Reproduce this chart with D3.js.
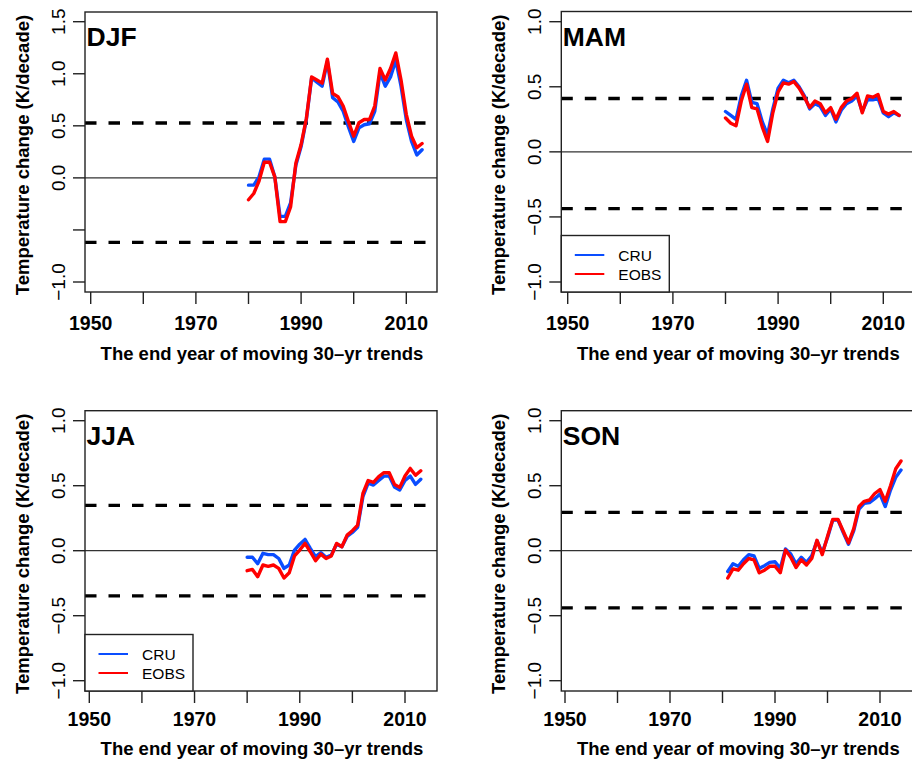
<!DOCTYPE html>
<html>
<head>
<meta charset="utf-8">
<script src="https://cdn.jsdelivr.net/npm/d3@7"></script>
<style>
  html, body { margin: 0; padding: 0; background: #fff; }
  svg { display: block; font-family: "Liberation Sans", Arial, Helvetica, sans-serif; }
</style>
</head>
<body>
<svg id="chart" width="912" height="761"></svg>
<script>
// End years of the moving 30-yr trend windows
const yearsDJF = [1980,1981,1982,1983,1984,1985,1986,1987,1988,1989,1990,1991,1992,1993,1994,1995,1996,1997,1998,1999,2000,2001,2002,2003,2004,2005,2006,2007,2008,2009,2010,2011,2012,2013];
const yearsMAM = yearsDJF;
const yearsJJA = yearsDJF;
const yearsSON = [1981,1982,1983,1984,1985,1986,1987,1988,1989,1990,1991,1992,1993,1994,1995,1996,1997,1998,1999,2000,2001,2002,2003,2004,2005,2006,2007,2008,2009,2010,2011,2012,2013,2014];

// Trend values (K/decade)
const djfCRU  = [-0.07,-0.07,0.01,0.18,0.18,0.01,-0.37,-0.37,-0.24,0.12,0.30,0.56,0.96,0.92,0.88,1.12,0.77,0.73,0.64,0.49,0.35,0.48,0.51,0.52,0.64,1.01,0.88,0.97,1.13,0.88,0.56,0.35,0.22,0.27];
const djfEOBS = [-0.21,-0.15,-0.03,0.15,0.15,0.01,-0.42,-0.42,-0.28,0.14,0.32,0.57,0.97,0.94,0.91,1.14,0.81,0.78,0.69,0.54,0.40,0.53,0.56,0.56,0.69,1.05,0.94,1.05,1.20,0.94,0.61,0.40,0.29,0.33];
const mamCRU  = [0.31,0.28,0.25,0.43,0.55,0.38,0.37,0.23,0.13,0.33,0.49,0.55,0.53,0.55,0.50,0.43,0.33,0.37,0.35,0.28,0.33,0.23,0.32,0.37,0.39,0.43,0.31,0.40,0.40,0.41,0.30,0.27,0.30,0.28];
const mamEOBS = [0.26,0.22,0.20,0.39,0.52,0.34,0.33,0.19,0.08,0.30,0.46,0.53,0.52,0.54,0.49,0.42,0.34,0.39,0.37,0.30,0.34,0.25,0.34,0.39,0.41,0.45,0.30,0.43,0.42,0.44,0.31,0.29,0.31,0.28];
const jjaCRU  = [-0.05,-0.05,-0.10,-0.02,-0.03,-0.03,-0.06,-0.136,-0.11,0.005,0.05,0.087,0.018,-0.046,-0.015,-0.05,-0.033,0.05,0.03,0.11,0.14,0.18,0.415,0.52,0.505,0.54,0.574,0.574,0.49,0.467,0.54,0.574,0.51,0.55];
const jjaEOBS = [-0.154,-0.144,-0.20,-0.11,-0.12,-0.11,-0.136,-0.21,-0.17,-0.04,0.005,0.056,-0.008,-0.077,-0.026,-0.06,-0.04,0.056,0.03,0.12,0.154,0.197,0.44,0.54,0.526,0.57,0.60,0.60,0.51,0.487,0.574,0.633,0.58,0.615];
const sonCRU  = [-0.16,-0.10,-0.12,-0.07,-0.03,-0.04,-0.136,-0.115,-0.09,-0.085,-0.136,0.013,-0.026,-0.10,-0.05,-0.09,-0.04,0.077,-0.015,0.10,0.236,0.236,0.14,0.05,0.154,0.32,0.364,0.37,0.40,0.436,0.34,0.467,0.564,0.62];
const sonEOBS = [-0.21,-0.14,-0.15,-0.10,-0.06,-0.07,-0.17,-0.15,-0.12,-0.12,-0.17,0.005,-0.05,-0.13,-0.07,-0.11,-0.06,0.08,-0.03,0.11,0.24,0.24,0.15,0.06,0.17,0.34,0.38,0.39,0.44,0.47,0.38,0.50,0.63,0.69];

// Dashed threshold levels (upper, lower)
const djfBounds = [0.527, -0.62];
const mamBounds = [0.41, -0.436];
const jjaBounds = [0.349, -0.348];
const sonBounds = [0.295, -0.44];

// Axis ticks
const xTicks = [1950,1960,1970,1980,1990,2000,2010];
const xTickLabels = [1950,1970,1990,2010];
const yTicksDJF = [-1.0,-0.5,0.0,0.5,1.0,1.5];
const yTickLabelsDJF = [-1.0,0.0,0.5,1.0,1.5];
const yTicks = [-1.0,-0.5,0.0,0.5,1.0];
const yTickLabels = [-1.0,-0.5,0.0,0.5,1.0];

const seriesNames = ["CRU", "EOBS"];
const seriesColors = ["#0a4dff", "#ff0000"];

const xTitle = "The end year of moving 30\u2013yr trends";
const yTitle = "Temperature change (K/decade)";

const panels = [
  { name: "DJF", years: yearsDJF, cru: djfCRU, eobs: djfEOBS, bounds: djfBounds,
    yTicks: yTicksDJF, yLabels: yTickLabelsDJF, yDom: [-1, 1.5],
    box: { l: 85, t: 12, r: 437, b: 292 }, xr: [90.7, 406.3], yr: [282, 21.7],
    xLabelY: 330, xTitleY: 360, legend: false },
  { name: "MAM", years: yearsMAM, cru: mamCRU, eobs: mamEOBS, bounds: mamBounds,
    yTicks: yTicks, yLabels: yTickLabels, yDom: [-1, 1],
    box: { l: 561.3, t: 11.5, r: 913.3, b: 292 }, xr: [567.7, 883.3], yr: [282, 21.7],
    xLabelY: 330, xTitleY: 360, legend: true },
  { name: "JJA", years: yearsJJA, cru: jjaCRU, eobs: jjaEOBS, bounds: jjaBounds,
    yTicks: yTicks, yLabels: yTickLabels, yDom: [-1, 1],
    box: { l: 85, t: 410.7, r: 437, b: 691 }, xr: [89.3, 405], yr: [680.7, 420.7],
    xLabelY: 726, xTitleY: 755, legend: true },
  { name: "SON", years: yearsSON, cru: sonCRU, eobs: sonEOBS, bounds: sonBounds,
    yTicks: yTicks, yLabels: yTickLabels, yDom: [-1, 1],
    box: { l: 561.3, t: 410.7, r: 913.3, b: 691 }, xr: [565, 880], yr: [680.7, 420.7],
    xLabelY: 726, xTitleY: 755, legend: false }
];

const svg = d3.select("#chart");
const fmt = v => (v < 0 ? "\u2212" : "") + Math.abs(v).toFixed(1);
const frameColor = "#222";

panels.forEach((p, i) => {
  const g = svg.append("g");
  const x = d3.scaleLinear().domain([1950, 2010]).range(p.xr);
  const y = d3.scaleLinear().domain(p.yDom).range(p.yr);
  const B = p.box;

  const clipId = "clip" + i;
  g.append("clipPath").attr("id", clipId)
    .append("rect").attr("x", B.l).attr("y", B.t).attr("width", B.r - B.l).attr("height", B.b - B.t);

  const plot = g.append("g").attr("clip-path", `url(#${clipId})`);

  // zero reference line
  plot.append("line")
    .attr("x1", B.l).attr("x2", B.r).attr("y1", y(0)).attr("y2", y(0))
    .attr("stroke", "#333").attr("stroke-width", 1.3);

  // threshold lines
  p.bounds.forEach(v => {
    plot.append("line")
      .attr("x1", B.l).attr("x2", B.r).attr("y1", y(v)).attr("y2", y(v))
      .attr("stroke", "#000").attr("stroke-width", 3.3)
      .attr("stroke-dasharray", "11.5,12");
  });

  // data series
  const line = d3.line().x(d => x(d[0])).y(d => y(d[1]));
  [p.cru, p.eobs].forEach((vals, k) => {
    const pts = p.years.map((yr, j) => [yr, vals[j]]);
    plot.append("path").datum(pts)
      .attr("d", line)
      .attr("fill", "none")
      .attr("stroke", seriesColors[k])
      .attr("stroke-width", 3.4)
      .attr("stroke-linejoin", "round")
      .attr("stroke-linecap", "round");
  });

  // plot frame
  g.append("rect")
    .attr("x", B.l).attr("y", B.t).attr("width", B.r - B.l).attr("height", B.b - B.t)
    .attr("fill", "none").attr("stroke", frameColor).attr("stroke-width", 1.4);

  // x axis
  const xAxis = g.append("g");
  xAxis.selectAll("line.tick").data(xTicks).join("line")
    .attr("x1", d => x(d)).attr("x2", d => x(d))
    .attr("y1", B.b).attr("y2", B.b + 12)
    .attr("stroke", frameColor).attr("stroke-width", 1.4);
  xAxis.selectAll("text").data(xTickLabels).join("text")
    .attr("x", d => x(d)).attr("y", p.xLabelY)
    .attr("text-anchor", "middle")
    .attr("font-size", 19.5).attr("font-weight", "bold")
    .text(d => d);

  // y axis
  const yAxis = g.append("g");
  yAxis.selectAll("line.tick").data(p.yTicks).join("line")
    .attr("x1", B.l - 12).attr("x2", B.l)
    .attr("y1", d => y(d)).attr("y2", d => y(d))
    .attr("stroke", frameColor).attr("stroke-width", 1.4);
  yAxis.selectAll("text").data(p.yLabels).join("text")
    .attr("transform", d => `translate(${B.l - 20},${y(d)}) rotate(-90)`)
    .attr("text-anchor", "middle")
    .attr("font-size", 19)
    .text(d => fmt(d));

  // axis titles
  g.append("text")
    .attr("x", (B.l + B.r) / 2 + 1).attr("y", p.xTitleY)
    .attr("text-anchor", "middle")
    .attr("font-size", 18.5).attr("font-weight", "bold")
    .text(xTitle);
  g.append("text")
    .attr("transform", `translate(${B.l - 56},${(B.t + B.b) / 2 + 3}) rotate(-90)`)
    .attr("text-anchor", "middle")
    .attr("font-size", 18.5).attr("font-weight", "bold")
    .text(yTitle);

  // season label
  g.append("text")
    .attr("x", B.l + 1.5).attr("y", B.t + 34)
    .attr("font-size", 26.5).attr("font-weight", "bold")
    .text(p.name);

  // legend
  if (p.legend) {
    const lw = 108, lh = 56.5;
    const lg = g.append("g").attr("transform", `translate(${B.l},${B.b - lh})`);
    lg.append("rect").attr("width", lw).attr("height", lh)
      .attr("fill", "#fff").attr("stroke", frameColor).attr("stroke-width", 1.4);
    seriesNames.forEach((nm, k) => {
      const cy = 19.5 + k * 19;
      lg.append("line")
        .attr("x1", 13.5).attr("x2", 43).attr("y1", cy).attr("y2", cy)
        .attr("stroke", seriesColors[k]).attr("stroke-width", 2);
      lg.append("text")
        .attr("x", 57).attr("y", cy + 5.7)
        .attr("font-size", 15.5)
        .text(nm);
    });
  }
});
</script>
</body>
</html>
